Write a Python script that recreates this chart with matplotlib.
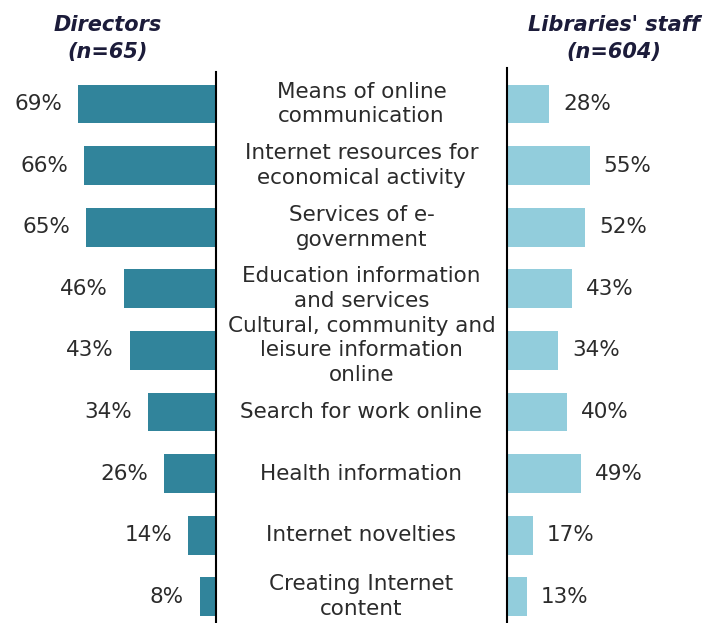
import numpy as np
import matplotlib.pyplot as plt
from matplotlib.transforms import blended_transform_factory

# Data
categories = [
    "Means of online\ncommunication",
    "Internet resources for\neconomical activity",
    "Services of e-\ngovernment",
    "Education information\nand services",
    "Cultural, community and\nleisure information\nonline",
    "Search for work online",
    "Health information",
    "Internet novelties",
    "Creating Internet\ncontent",
]
directors = [69, 66, 65, 46, 43, 34, 26, 14, 8]
staff = [28, 55, 52, 43, 34, 40, 49, 17, 13]
left_title = "Directors\n(n=65)"
right_title = "Libraries' staff\n(n=604)"

dark = '#31849b'
light = '#92cddc'
txt = '#2b2b2b'
head = '#1c1c3a'

W, H = 707, 623
fig = plt.figure(figsize=(W / 100, H / 100), dpi=100)

bot_px = 623
row0, step = 104, 61.6  # pixel centre of first row, row spacing
y = np.arange(len(categories))

def px_ax(x0, x1, top):
    ax = fig.add_axes([x0 / W, (H - bot_px) / H, (x1 - x0) / W, (bot_px - top) / H])
    ax.set_ylim(8 + (bot_px - (row0 + 8 * step)) / step, -(row0 - top) / step)
    return ax

# Left panel (Directors), bars grow leftwards
axl = px_ax(0, 216, 72)
axl.barh(y, directors, height=0.63, color=dark)
axl.set_xlim(108, 0)
for s in ['top', 'left', 'bottom']:
    axl.spines[s].set_visible(False)
axl.spines['right'].set_linewidth(1.5)
axl.set_xticks([]); axl.set_yticks([])
axl.patch.set_alpha(0)
for yi, v in zip(y, directors):
    axl.annotate(f"{v}%", (v, yi), xytext=(-11.5, 0), textcoords='offset points',
                 ha='right', va='center', fontsize=15.5, color=txt)

# Right panel (staff)
axr = px_ax(507, 707, 68)
axr.barh(y, staff, height=0.63, color=light)
axr.set_xlim(0, 133)
for s in ['top', 'right', 'bottom']:
    axr.spines[s].set_visible(False)
axr.spines['left'].set_linewidth(1.5)
axr.set_xticks([]); axr.set_yticks([])
axr.patch.set_alpha(0)
for yi, v in zip(y, staff):
    axr.annotate(f"{v}%", (v, yi), xytext=(10, 0), textcoords='offset points',
                 ha='left', va='center', fontsize=15.5, color=txt)

# Middle: category labels
axm = px_ax(216, 507, 72)
axm.axis('off')
tr = blended_transform_factory(axm.transAxes, axm.transData)
for yi, c in zip(y, categories):
    axm.text(0.5, yi, c, transform=tr, ha='center', va='center',
             fontsize=15.5, color=txt, linespacing=1.3)

# Panel headers
fig.text(108 / W, 1 - 38.5 / H, left_title, ha='center', va='center', fontsize=15,
         fontweight='bold', fontstyle='italic', color=head, linespacing=1.45)
fig.text(614 / W, 1 - 38.5 / H, right_title, ha='center', va='center', fontsize=15,
         fontweight='bold', fontstyle='italic', color=head, linespacing=1.45)

fig.savefig('out.png', dpi=100)
